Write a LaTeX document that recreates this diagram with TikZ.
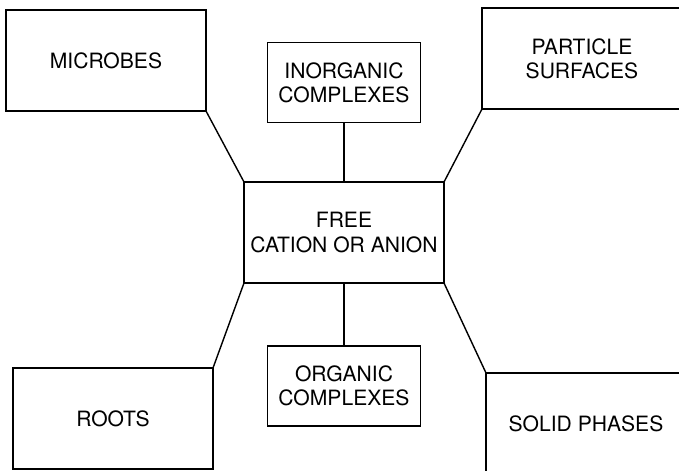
\documentclass[tikz,border=0pt]{standalone}
\usepackage{fontspec}
\setsansfont{TeX Gyre Heros}
\usepackage{tikz}
\tikzset{%
  % Specifications for style of nodes:
            base/.style = {rectangle, draw=black, line width=0.8pt,
                           inner sep=0pt, outer sep=0pt, align=center,
                           font=\sffamily\fontsize{12}{13.8}\selectfont},
            pool/.style = {base, minimum width=4cm, minimum height=2.02cm},
         complex/.style = {base, line width=1pt,
                           minimum width=3.06cm, minimum height=1.6cm},
}
\begin{document}
\begin{tikzpicture}[
    node distance=3cm,
    line width=0.8pt]

  \useasboundingbox (-6.88,-4.77) rectangle (6.70,4.65);

  \node(free)        [pool]                                                  {FREE\\CATION OR ANION};

  \node(inorganic)   [complex, above of=free]                                {INORGANIC\\COMPLEXES};
  \node(organic)     [complex, below of=free, yshift=-0.07cm]                {ORGANIC\\COMPLEXES};

  \node(microbes)    [pool, left of=inorganic, xshift=-1.76cm, yshift=0.44cm]  {MICROBES};
  \node(particle)    [pool, right of=inorganic, xshift=1.76cm, yshift=0.48cm]  {PARTICLE\\SURFACES};
  \node(roots)       [pool, left of=organic, xshift=-1.62cm, yshift=-0.65cm]   {ROOTS};
  \node(solid)       [pool, right of=organic, xshift=1.84cm, yshift=-0.75cm]   {SOLID PHASES};

  % Lines from the free ion to the other pools
  \draw             (microbes.south east) -- (free.north west);
  \draw             (inorganic) -- (free);
  \draw             (particle.south west) -- (free.north east);
  \draw             (free.south west) -- (roots.north east);
  \draw             (free) -- (organic);
  \draw             (free.south east) -- (solid.north west);

\end{tikzpicture}
\end{document}
